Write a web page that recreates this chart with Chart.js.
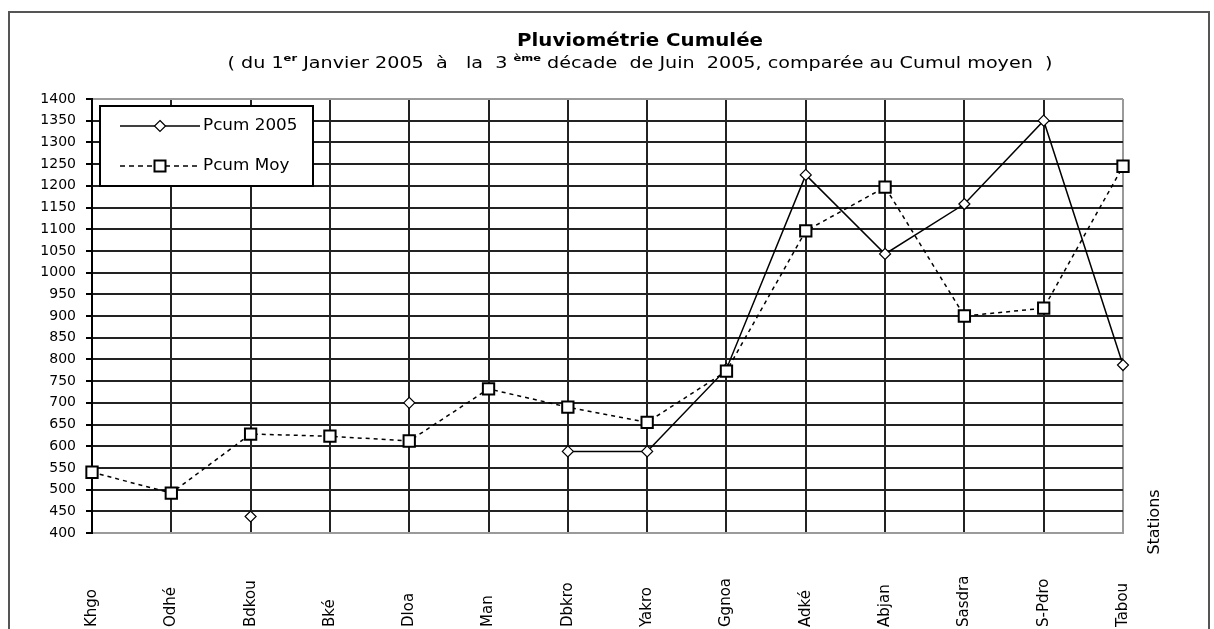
<!DOCTYPE html>
<html>
<head>
<meta charset="utf-8">
<style>
    body { margin: 0; background: #fff; }
    #chart { display: block; }
</style>
<script src="https://cdn.jsdelivr.net/npm/chart.js"></script>
</head>
<body>
<canvas id="chart" width="1214" height="629"></canvas>
<script>
    // stations on the x axis
    const stations = ['Khgo', 'Odhé', 'Bdkou', 'Bké', 'Dloa', 'Man', 'Dbkro', 'Yakro', 'Ggnoa', 'Adké', 'Abjan', 'Sasdra', 'S-Pdro', 'Tabou'];
    // cumulated rainfall 2005 (mm), null where there is no value
    const pcum2005 = [null, null, 438, null, 700, null, 588, 588, 778, 1225, 1043, 1158, 1350, 787];
    // average cumulated rainfall (mm)
    const pcumMoy = [540, 492, 628, 623, 612, 732, 690, 655, 773, 1096, 1197, 900, 918, 1245];
    // y axis range
    const yMin = 400;
    const yMax = 1400;
    const yStep = 50;
    const seriesNames = ['Pcum 2005', 'Pcum Moy'];
    const axisName = 'Stations';
    const titleText = 'Pluviométrie Cumulée';
    // subtitle pieces: [text, superscript?]
    const subtitleParts = [
        ['( du 1', false], ['er', true], [' Janvier 2005  à   la  3 ', false], ['ème', true],
        [' décade  de Juin  2005, comparée au Cumul moyen  )', false]
    ];

    const FONT = 'DejaVu Sans';

    // draws a row of text pieces, stretched to a given width (the original picture is stretched sideways)
    function drawStretched(ctx, pieces, cx, baseline, width) {
        let total = 0;
        pieces.forEach(p => { ctx.font = p.font; total += ctx.measureText(p.text).width; });
        ctx.save();
        ctx.translate(cx - width / 2, baseline);
        ctx.scale(width / total, 1);
        ctx.textAlign = 'left';
        ctx.textBaseline = 'alphabetic';
        ctx.fillStyle = '#000';
        let x = 0;
        pieces.forEach(p => {
            ctx.font = p.font;
            ctx.fillText(p.text, x, -(p.rise || 0));
            x += ctx.measureText(p.text).width;
        });
        ctx.restore();
    }

    const decorPlugin = {
        id: 'decor',
        afterDraw(chart) {
            const ctx = chart.ctx;
            const xs = chart.scales.x;

            // outer frame
            ctx.save();
            ctx.strokeStyle = '#555';
            ctx.lineWidth = 2;
            ctx.strokeRect(9, 12, 1200, 640);
            ctx.restore();

            // title + subtitle
            drawStretched(ctx, [{ text: titleText, font: 'bold 18px ' + FONT }], 640, 46, 246);
            drawStretched(ctx, subtitleParts.map(p => p[1]
                ? { text: p[0], font: 'bold 9px ' + FONT, rise: 7 }
                : { text: p[0], font: '15px ' + FONT }), 640, 68, 825);

            // station labels, vertical, aligned at the bottom
            ctx.save();
            ctx.fillStyle = '#000';
            ctx.font = '15px ' + FONT;
            ctx.textAlign = 'left';
            ctx.textBaseline = 'middle';
            stations.forEach((s, i) => {
                ctx.save();
                ctx.translate(xs.getPixelForValue(i), 627);
                ctx.rotate(-Math.PI / 2);
                ctx.fillText(s, 0, 0);
                ctx.restore();
            });
            // axis name
            ctx.font = '16px ' + FONT;
            ctx.textAlign = 'center';
            ctx.translate(1155, 522);
            ctx.rotate(-Math.PI / 2);
            ctx.fillText(axisName, 0, 0);
            ctx.restore();

            // legend box
            ctx.save();
            ctx.fillStyle = '#fff';
            ctx.fillRect(100, 106, 213, 80);
            ctx.strokeStyle = '#000';
            ctx.lineWidth = 2;
            ctx.strokeRect(100, 106, 213, 80);
            [126, 166].forEach((y, i) => {
                ctx.lineWidth = 1.5;
                ctx.setLineDash(i === 0 ? [] : [5, 4]);
                ctx.beginPath();
                ctx.moveTo(120, y);
                ctx.lineTo(200, y);
                ctx.stroke();
                ctx.setLineDash([]);
                ctx.fillStyle = '#fff';
                ctx.beginPath();
                if (i === 0) {
                    ctx.lineWidth = 1.2;
                    ctx.moveTo(160, y - 5.5);
                    ctx.lineTo(165.5, y);
                    ctx.lineTo(160, y + 5.5);
                    ctx.lineTo(154.5, y);
                    ctx.closePath();
                } else {
                    ctx.lineWidth = 2;
                    ctx.rect(154.5, y - 5.5, 11, 11);
                }
                ctx.fill();
                ctx.stroke();
                ctx.save();
                ctx.translate(203, y);
                ctx.scale(1.12, 1);
                ctx.fillStyle = '#000';
                ctx.font = '15px ' + FONT;
                ctx.textBaseline = 'middle';
                ctx.fillText(seriesNames[i], 0, 0);
                ctx.restore();
            });
            ctx.restore();
        }
    };

    new Chart(document.getElementById('chart'), {
        type: 'line',
        data: {
            labels: stations,
            datasets: [{
                label: seriesNames[0],
                data: pcum2005,
                borderColor: '#000',
                borderWidth: 1.5,
                pointStyle: 'rectRot',
                pointRadius: 5.5,
                pointBorderWidth: 1.2,
                pointBackgroundColor: '#fff',
                pointBorderColor: '#000',
                spanGaps: false,
                clip: false,
                order: 1
            }, {
                label: seriesNames[1],
                data: pcumMoy,
                borderColor: '#000',
                borderWidth: 1.5,
                borderDash: [4, 4],
                pointStyle: 'rect',
                pointRadius: 8,
                pointBorderWidth: 2,
                pointBackgroundColor: '#fff',
                pointBorderColor: '#000',
                clip: false,
                order: 0
            }]
        },
        options: {
            responsive: false,
            animation: false,
            events: [],
            layout: { padding: { top: 99, left: 0, right: 91, bottom: 96 } },
            plugins: {
                legend: { display: false },
                title: { display: false },
                tooltip: { enabled: false }
            },
            scales: {
                x: {
                    ticks: { display: false },
                    grid: {
                        color: c => c.index === stations.length - 1 ? '#9a9a9a' : '#222',
                        lineWidth: 2,
                        drawTicks: false
                    },
                    border: { color: '#9a9a9a', width: 2 }
                },
                y: {
                    min: yMin,
                    max: yMax,
                    ticks: {
                        stepSize: yStep,
                        color: '#000',
                        padding: 10,
                        font: { family: FONT, size: 14 },
                        callback: v => String(v)
                    },
                    grid: {
                        color: c => (c.tick && (c.tick.value === yMin || c.tick.value === yMax)) ? '#9a9a9a' : '#222',
                        lineWidth: 2,
                        tickLength: 6,
                        tickColor: '#000',
                        tickWidth: 2
                    },
                    border: { color: '#000', width: 2 },
                    afterFit: s => { s.width = 92; }
                }
            }
        },
        plugins: [decorPlugin]
    });
</script>
</body>
</html>
